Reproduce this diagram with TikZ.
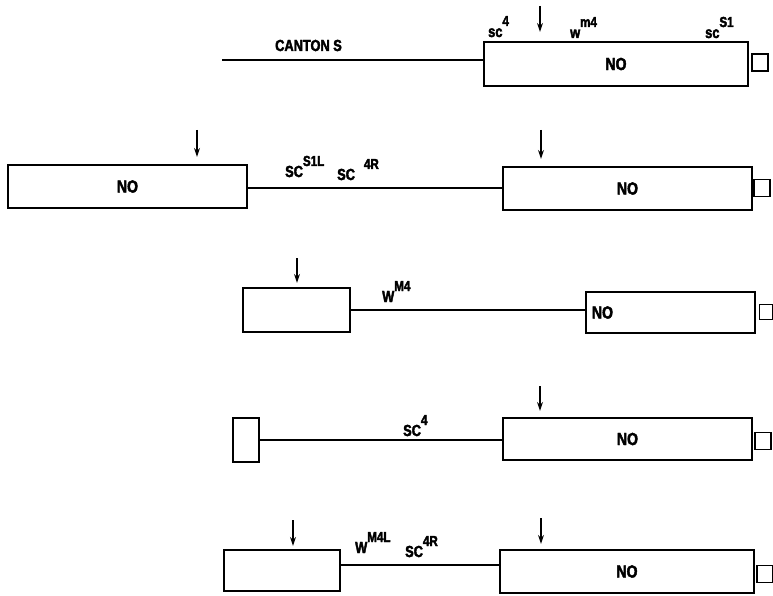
\documentclass[tikz,border=0pt]{standalone}
\usepackage{fontspec}
\setmainfont{Liberation Sans}[UprightFont=* Bold, BoldFont=* Bold, FakeStretch=0.8, FakeBold=2.5]
\usetikzlibrary{arrows.meta}
\newcommand{\gsup}[1]{\raisebox{11pt}{\fontsize{14.5}{14.5}\selectfont #1}}
\tikzset{
  x=1pt, y=-1pt,
  every node/.style={font=\fontsize{16}{16}\selectfont},
  gbox/.style={draw, line width=2.2pt, rectangle, inner sep=0pt, font=\fontsize{17.5}{17.5}\selectfont},
  sq/.style={draw, line width=1.3pt, rectangle, inner sep=0pt, minimum width=16pt, minimum height=17pt},
  chrom/.style={line width=2pt},
  cut/.style={line width=1.2pt, -{Stealth[length=9pt,width=6pt]}},
  lbl/.style={inner sep=0pt, anchor=base west}
}
\begin{document}
\begin{tikzpicture}
\useasboundingbox (0,0) rectangle (773,596);
% Row 1
\node[gbox, minimum width=264pt, minimum height=44pt] (b1) at (616,64) {NO};
\node[sq] (s1) at (760,62.5) {};
\coordinate (l1) at (222,60);
\draw[chrom] (l1) -- (l1 -| b1.west);
\node[lbl] (t1) at (275,51) {CANTON S};
\coordinate (a1) at (540,6);
\draw[cut] (a1) -- ([yshift=9pt]a1 |- b1.north);
\node[lbl] (k1) at (488,37) {sc\gsup{4}};
\node[lbl] (k2) at (570,38) {w\gsup{m4}};
\node[lbl] (k3) at (705,38) {sc\gsup{S1}};
% Row 2
\node[gbox, minimum width=239pt, minimum height=43pt] (b2) at (127.5,186.5) {NO};
\node[gbox, minimum width=249pt, minimum height=43pt] (b3) at (627.5,188.5) {NO};
\node[sq] (s2) at (762,188) {};
\coordinate (l2) at (247,188);
\draw[chrom] (l2) -- (l2 -| b3.west);
\coordinate (a2) at (197,130);
\draw[cut] (a2) -- ([yshift=7pt]a2 |- b2.north);
\coordinate (a3) at (541,130);
\draw[cut] (a3) -- ([yshift=7pt]a3 |- b3.north);
\node[lbl] (k4) at (285,177) {SC\gsup{S1L}};
\node[lbl] (k5) at (337,180) {SC\hspace{9pt}\gsup{4R}};
% Row 3
\node[gbox, minimum width=107pt, minimum height=44pt] (b4) at (296.5,310) {};
\node[gbox, minimum width=167pt, minimum height=41pt, text width=157pt, align=left, inner xsep=6pt] (b5) at (670.5,312.5) {NO};
\node[sq, minimum width=13pt, minimum height=15pt] (s3) at (766,312) {};
\coordinate (l3) at (350,310);
\draw[chrom] (l3) -- (l3 -| b5.west);
\coordinate (a4) at (297,258);
\draw[cut] (a4) -- ([yshift=4pt]a4 |- b4.north);
\node[lbl] (k6) at (382,302) {W\gsup{M4}};
% Row 4
\node[gbox, minimum width=26pt, minimum height=44pt] (b6) at (246,440) {};
\node[gbox, minimum width=249pt, minimum height=42pt] (b7) at (627.5,439) {NO};
\node[sq] (s4) at (763,441) {};
\draw[chrom] (b6.east) -- (b6.east -| b7.west);
\coordinate (a5) at (540,386);
\draw[cut] (a5) -- ([yshift=6pt]a5 |- b7.north);
\node[lbl] (k7) at (403,436) {SC\gsup{4}};
% Row 5
\node[gbox, minimum width=116pt, minimum height=41pt] (b8) at (282,570.5) {};
\node[gbox, minimum width=254pt, minimum height=43pt] (b9) at (627,571.5) {NO};
\node[sq] (s5) at (765,574) {};
\coordinate (l5) at (340,565);
\draw[chrom] (l5) -- (l5 -| b9.west);
\coordinate (a6) at (293,520);
\draw[cut] (a6) -- ([yshift=3pt]a6 |- b8.north);
\coordinate (a7) at (541,518);
\draw[cut] (a7) -- ([yshift=5pt]a7 |- b9.north);
\node[lbl] (k8) at (355,553) {W\gsup{M4L}};
\node[lbl] (k9) at (405,557) {SC\gsup{4R}};
\end{tikzpicture}
\end{document}
